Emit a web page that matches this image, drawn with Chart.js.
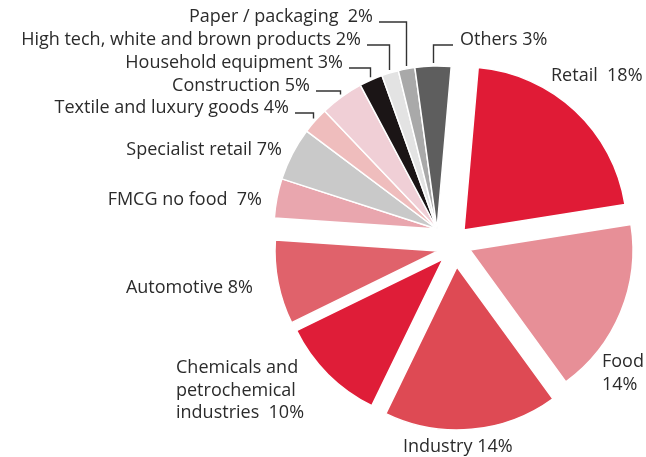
<!DOCTYPE html>
<html>
<head>
  <meta charset="UTF-8">
  <title>Sectores clientes</title>
  <script src="https://cdn.jsdelivr.net/npm/chart.js"></script>
  <style>
    body { margin: 0; background: #fff; }
  </style>
</head>
<body>
  <canvas id="chart" width="646" height="457"></canvas>
  <script>
    // sectors, clockwise starting at the top
    const sectors = ["Retail", "Food", "Industry", "Chemicals and\npetrochemical\nindustries", "Automotive",
      "FMCG no food", "Specialist retail", "Textile and luxury goods", "Construction",
      "Household equipment", "High tech, white and brown products", "Paper / packaging", "Others"];
    // percentages printed next to each slice
    const printed = [18, 14, 14, 10, 8, 7, 7, 4, 5, 3, 2, 2, 3];
    // size of each slice as it is drawn (share of the circle, %)
    const drawnShare = [21.1, 17.5, 17.2, 10.56, 8.33, 3.89, 5.28, 2.64, 4.31, 2.31, 1.67, 1.64, 3.56];
    const colors = ["#e01b36", "#e78f97", "#de4a54", "#df1d38", "#e0626b", "#e9a6ae", "#c9c9c9",
      "#efbdbd", "#f0cfd6", "#1b1516", "#e3e3e3", "#a9a9a9", "#5e5e5e"];

    // how far each slice is pulled out of the pie [dx, dy]
    const pull = [[27, 1], [33, 21], [20, 38], [6, 30], [1, 22], [0, 0], [0, 0], [0, 0], [0, 0], [0, 0], [0, 0], [0, 0], [0, 0]];
    // label anchor: x, y, text align, separator before the percentage, leader line
    const labelAt = [
      [551, 76, "left", "  ", false],
      [602, 362, "left", "\n", false],
      [403, 447, "left", " ", false],
      [176, 368, "left", "  ", false],
      [253, 288, "right", " ", false],
      [262, 200, "right", "  ", false],
      [282, 150, "right", " ", false],
      [289, 108, "right", " ", true],
      [310, 86, "right", " ", true],
      [343, 63, "right", " ", true],
      [361, 40, "right", " ", true],
      [373, 17, "right", "  ", true],
      [460, 40, "left", " ", true]
    ];

    const explode = {
      id: "explode",
      afterDatasetUpdate(chart, args) {
        chart.getDatasetMeta(args.index).data.forEach((arc, i) => {
          arc.x += pull[i][0];
          arc.y += pull[i][1];
        });
      }
    };

    const labels = {
      id: "labels",
      afterDraw(chart) {
        const ctx = chart.ctx;
        const arcs = chart.getDatasetMeta(0).data;
        ctx.save();
        ctx.font = "18px 'Open Sans', sans-serif";
        ctx.fillStyle = "#2b2b2b";
        ctx.strokeStyle = "#333";
        ctx.lineWidth = 1.4;
        ctx.textBaseline = "middle";
        labelAt.forEach((p, i) => {
          const lines = (sectors[i] + p[3] + printed[i] + "%").split("\n");
          ctx.textAlign = p[2];
          lines.forEach((t, k) => ctx.fillText(t, p[0], p[1] + k * 22.5));
          if (p[4]) {
            const a = arcs[i];
            const mid = (a.startAngle + a.endAngle) / 2;
            const xe = a.x + (a.outerRadius + 3) * Math.cos(mid);
            const ye = a.y + (a.outerRadius + 3) * Math.sin(mid);
            const ly = p[1] + 5;
            const x0 = p[2] === "right" ? p[0] + 6 : p[0] - 7;
            ctx.beginPath();
            ctx.moveTo(x0, ly);
            ctx.lineTo(Math.round(xe) + 0.5, ly);
            ctx.lineTo(Math.round(xe) + 0.5, ye);
            ctx.stroke();
          }
        });
        ctx.restore();
      }
    };

    new Chart(document.getElementById("chart"), {
      type: "pie",
      data: {
        labels: sectors,
        datasets: [{
          data: drawnShare,
          backgroundColor: colors,
          borderColor: "#fff",
          borderWidth: 1.5,
          clip: false
        }]
      },
      options: {
        responsive: false,
        animation: false,
        rotation: 5,
        radius: 163,
        layout: { padding: { left: 238, right: 10, top: 10, bottom: 9 } },
        plugins: {
          legend: { display: false },
          tooltip: { enabled: false }
        }
      },
      plugins: [explode, labels]
    });
  </script>
</body>
</html>
